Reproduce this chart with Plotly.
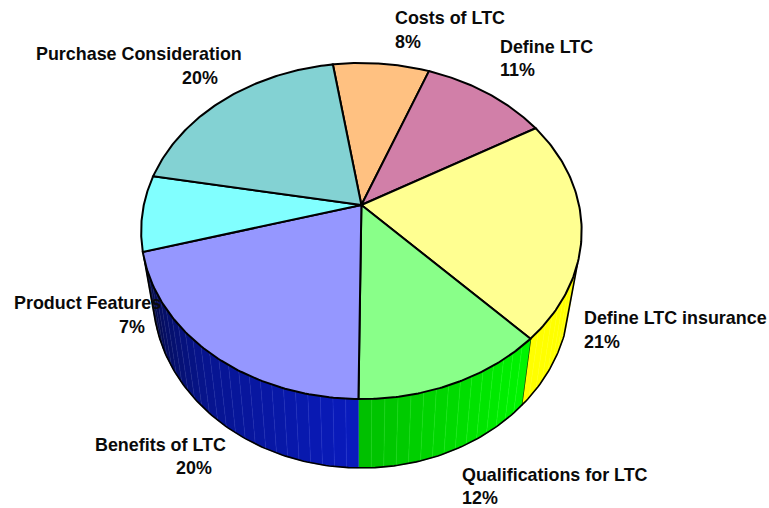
import numpy as np
import plotly.graph_objects as go

categories = ["Costs of LTC", "Define LTC", "Define LTC insurance", "Qualifications for LTC",
              "Benefits of LTC", "Product Features", "Purchase Consideration"]
values = [8.2, 10.8, 21.3, 12.3, 20.4, 7.3, 19.7]
percent_labels = ["8%", "11%", "21%", "12%", "20%", "7%", "20%"]
top_colors = ["#FFC181", "#D17FA8", "#FFFF91", "#89FF89", "#9597FF", "#81FFFF", "#83D2D3"]
wall_colors = [(255, 150, 0), (200, 0, 100), (255, 255, 0), (0, 255, 0), (13, 37, 255), (0, 200, 200), (0, 170, 170)]

# label positions in page pixels: (name x, name y, name anchor, pct x, pct y, pct anchor)
label_layout = [
    (393, 18, "left", 393, 42, "left"),
    (498, 47, "left", 498, 70, "left"),
    (582, 318, "left", 582, 342, "left"),
    (460, 475, "left", 460, 498, "left"),
    (93, 445, "left", 194, 468, "center"),
    (12, 303, "left", 132, 327, "center"),
    (34, 54, "left", 200, 78, "center"),
]

START = -8.7
P, R, S = 0.155, 217.6, 164.0
CX, CY = 361.4, 205.0
BX, BY, BS = 0.947, 267.5, 1.033
VIS = (109.6, 252.0)


def unit(a):
    a = np.radians(a)
    x, y = np.sin(a), -np.cos(a)
    return x / (1 - P * y), y / (1 - P * y)


def top(a):
    x, y = unit(a)
    return CX + R * x, CY + S * y


def bottom(a):
    x, y = unit(a)
    return CX + BX * R * x, BY + BS * S * y


def shade(a):
    return float(np.interp(a, [130, 180, 220, 240, 252], [1.0, 0.75, 0.56, 0.38, 0.18]))


fig = go.Figure()
edges = START + np.concatenate([[0], np.cumsum(values)]) * 3.6

# side wall strips
for i, base in enumerate(wall_colors):
    a0, a1 = max(edges[i], VIS[0]), min(edges[i + 1], VIS[1])
    if a1 <= a0:
        continue
    n = max(1, int(round((a1 - a0) / 2.9)))
    bounds = np.linspace(a0, a1, n + 1)
    for b0, b1 in zip(bounds[:-1], bounds[1:]):
        arc = np.linspace(b0, b1, 5)
        tx, ty = top(arc)
        bx, by = bottom(arc[::-1])
        s = shade((b0 + b1) / 2) if i != 2 else 1.0
        c = tuple(int(v * s) for v in base)
        lc = tuple(min(255, int(v + 18)) for v in c)
        fig.add_trace(go.Scatter(
            x=list(tx) + list(bx) + [tx[0]], y=list(ty) + list(by) + [ty[0]],
            mode="lines", fill="toself", fillcolor=f"rgb{c}",
            line=dict(color=f"rgb{lc}", width=0.5), hoverinfo="skip"))
    if i == 2:
        ex, ey = top(a1), bottom(a1)
        fig.add_trace(go.Scatter(x=[ex[0], ey[0]], y=[ex[1], ey[1]], mode="lines",
                                 line=dict(color="black", width=1.5), hoverinfo="skip"))

# wall outline
arc = np.linspace(VIS[0], VIS[1], 160)
ox, oy = bottom(arc)
t0, t1 = top(VIS[0]), top(VIS[1])
fig.add_trace(go.Scatter(x=[t0[0]] + list(ox) + [t1[0]], y=[t0[1]] + list(oy) + [t1[1]], mode="lines",
                         line=dict(color="black", width=1.6), hoverinfo="skip"))

# top face slices
for i, col in enumerate(top_colors):
    arc = np.linspace(edges[i], edges[i + 1], 80)
    px, py = top(arc)
    fig.add_trace(go.Scatter(
        x=[CX] + list(px) + [CX], y=[CY] + list(py) + [CY],
        mode="lines", fill="toself", fillcolor=col, name=categories[i],
        line=dict(color="black", width=2), hoverinfo="skip"))

font = dict(family="Liberation Sans, Arial, sans-serif", size=17.9, color="#0a0a0a")
for name, pct, (nx, ny, na, qx, qy, qa) in zip(categories, percent_labels, label_layout):
    fig.add_annotation(x=nx, y=ny, text=f"<b>{name}</b>", showarrow=False, xanchor=na, yanchor="middle", font=font)
    fig.add_annotation(x=qx, y=qy, text=f"<b>{pct}</b>", showarrow=False, xanchor=qa, yanchor="middle", font=font)

fig.update_layout(
    width=769, height=508, autosize=False, showlegend=False,
    margin=dict(l=0, r=0, t=0, b=0), paper_bgcolor="white", plot_bgcolor="white",
    xaxis=dict(range=[0, 769], visible=False, fixedrange=True),
    yaxis=dict(range=[508, 0], visible=False, fixedrange=True),
)
fig.write_html("out.html", config={"displayModeBar": False},
               post_script="document.body.style.margin='0';document.documentElement.style.overflow='hidden';")
